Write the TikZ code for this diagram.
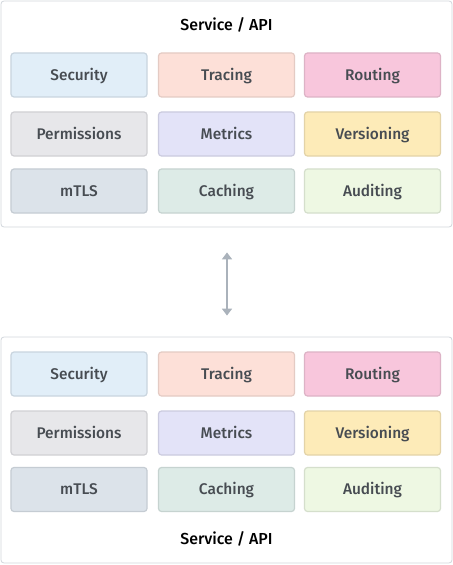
\documentclass[tikz,border=0pt]{standalone}
\usepackage{fontspec}
\setmainfont{Fira Sans}[UprightFont=* Medium, BoldFont=* Medium]
\usetikzlibrary{arrows.meta}

\definecolor{secfill}{HTML}{E1EEF8}\definecolor{secline}{HTML}{C9D5DF}
\definecolor{trafill}{HTML}{FDE0D8}\definecolor{traline}{HTML}{E4CBC4}
\definecolor{roufill}{HTML}{F8C6DC}\definecolor{rouline}{HTML}{DDB3C6}
\definecolor{perfill}{HTML}{E7E7EA}\definecolor{perline}{HTML}{D0D0D4}
\definecolor{metfill}{HTML}{E3E3F8}\definecolor{metline}{HTML}{CBCBDF}
\definecolor{verfill}{HTML}{FDEBB8}\definecolor{verline}{HTML}{E3D3A8}
\definecolor{mtlfill}{HTML}{DCE3EA}\definecolor{mtlline}{HTML}{C5CCD3}
\definecolor{cacfill}{HTML}{DDEBE7}\definecolor{cacline}{HTML}{C6D3D0}
\definecolor{audfill}{HTML}{EEF8E3}\definecolor{audline}{HTML}{D5DFCC}
\definecolor{panelline}{HTML}{D2D7DC}
\definecolor{labeltext}{HTML}{474C52}
\definecolor{arrowgray}{HTML}{AAB2BB}

\begin{document}
\begin{tikzpicture}[x=1bp, y=-1bp, >={Triangle[length=7bp, width=10bp]},
	panel/.style={draw=panelline, line width=0.8bp, rounded corners=3bp, fill=white, minimum width=451bp, minimum height=226bp},
	title/.style={font=\fontsize{16}{18}\selectfont, text=black, text height=11bp, text depth=0bp},
	box/.style={draw=#1line, fill=#1fill, line width=1.2bp, rounded corners=3bp, minimum width=136bp, minimum height=44bp, text=labeltext, font=\fontsize{15.5}{18}\selectfont, text height=10.7bp, text depth=0bp}]
	\useasboundingbox (0,0) rectangle (453,565);

	% Panel oben
	\node[panel] (top) at (226.5,114) {};
	\node[title] (toptitle) at (226.5,25) {Service / API};
	\node[box=sec] (tsec) at (79,75) {Security};
	\node[box=tra] (ttra) at (226.5,75) {Tracing};
	\node[box=rou] (trou) at (372.5,75) {Routing};
	\node[box=per] (tper) at (79,134) {Permissions};
	\node[box=met] (tmet) at (226.5,134) {Metrics};
	\node[box=ver] (tver) at (372.5,134) {Versioning};
	\node[box=mtl] (tmtl) at (79,191) {mTLS};
	\node[box=cac] (tcac) at (226.5,191) {Caching};
	\node[box=aud] (taud) at (372.5,191) {Auditing};

	% Panel unten
	\node[panel] (bottom) at (226.5,450) {};
	\node[box=sec] (bsec) at (79,374) {Security};
	\node[box=tra] (btra) at (226.5,374) {Tracing};
	\node[box=rou] (brou) at (372.5,374) {Routing};
	\node[box=per] (bper) at (79,433) {Permissions};
	\node[box=met] (bmet) at (226.5,433) {Metrics};
	\node[box=ver] (bver) at (372.5,433) {Versioning};
	\node[box=mtl] (bmtl) at (79,489.5) {mTLS};
	\node[box=cac] (bcac) at (226.5,489.5) {Caching};
	\node[box=aud] (baud) at (372.5,489.5) {Auditing};
	\node[title] (bottomtitle) at (226.5,539) {Service / API};

	% Pfeil
	\draw[<->, arrowgray, line width=2bp, shorten <=25bp, shorten >=21bp] ([xshift=0.5bp]top.south) -- ([xshift=0.5bp]bottom.north);
\end{tikzpicture}
\end{document}
